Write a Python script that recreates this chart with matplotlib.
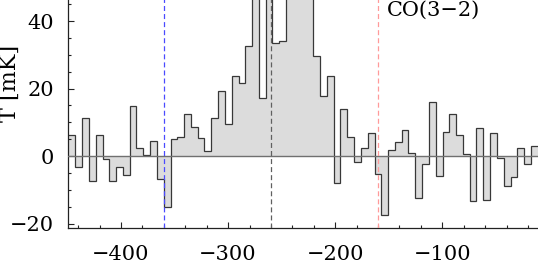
import numpy as np
import matplotlib
matplotlib.use("Agg")
import matplotlib.pyplot as plt
from matplotlib.ticker import MultipleLocator, FixedLocator

# channel centres (km/s) and antenna temperature (mK)
velocity = [-445.9, -439.5, -433.2, -426.8, -420.5, -414.1, -407.8, -401.4, -395.1, -388.7,
            -382.4, -376.0, -369.7, -363.3, -357.0, -350.6, -344.3, -337.9, -331.6, -325.2,
            -318.9, -312.5, -306.2, -299.8, -293.5, -287.1, -280.8, -274.4, -268.1, -261.7,
            -255.4, -249.0, -242.7, -236.3, -230.0, -223.6, -217.3, -210.9, -204.6, -198.2,
            -191.9, -185.5, -179.2, -172.8, -166.5, -160.1, -153.8, -147.4, -141.1, -134.7,
            -128.4, -122.0, -115.7, -109.3, -103.0, -96.6, -90.3, -83.9, -77.6, -71.2,
            -64.9, -58.5, -52.2, -45.8, -39.5, -33.1, -26.8, -20.4, -14.1]
temperature = [6.4, -3.2, 11.2, -7.4, 6.2, -0.8, -7.4, -3.2, -5.7, 14.8,
               2.4, 0.2, 4.4, -6.7, -15.0, 5.0, 5.6, 12.4, 8.7, 5.5,
               1.6, 11.2, 19.3, 9.5, 23.8, 21.7, 32.7, 55.0, 17.1, 60.0,
               33.6, 34.1, 58.0, 62.0, 52.0, 50.0, 29.7, 17.9, 23.8, -7.9,
               13.9, 5.8, -1.8, 2.5, 6.8, -5.2, -17.4, 1.8, 4.1, 7.8,
               0.8, -12.4, -2.4, 16.1, -5.8, 7.1, 12.4, 6.2, 0.6, -13.2,
               8.4, -12.9, 6.8, -0.7, -8.9, -6.2, 2.4, -2.4, 3.0]
channel_width = 6.35
marker_velocities = [-360, -260, -160]
marker_colors = ['#4a4aff', '#606060', '#ff9a9a']
line_label = 'CO(3\u22122)'
x_ticks = [-400, -300, -200, -100]
y_ticks = [-20, 0, 20, 40]

vel = np.array(velocity)
temp = np.array(temperature)
edges = np.concatenate([vel - channel_width / 2, [vel[-1] + channel_width / 2]])

plt.rcParams['font.family'] = ['DejaVu Serif']
plt.rcParams['lines.scale_dashes'] = False

fig = plt.figure(figsize=(5.38, 2.66), dpi=100)
ax = fig.add_axes([68 / 538, 38 / 266, 481.4 / 538, 308.3 / 266])

ax.stairs(temp, edges, baseline=0, fill=True, color='#dcdcdc', zorder=1)
ax.stairs(temp, edges, baseline=None, color='#383838', linewidth=0.9, zorder=2)
ax.axhline(0, color='#707070', linewidth=1.0, zorder=3)
for v, c in zip(marker_velocities, marker_colors):
    ax.axvline(v, color=c, linewidth=0.9, dashes=(3.6, 2.2), zorder=4)

ax.text(-152, 41.6, line_label, fontsize=15, va='baseline', ha='left')

ax.set_xlim(-449.5, 0)
ax.set_ylim(-21.28, 70)
ax.xaxis.set_major_locator(FixedLocator(x_ticks))
ax.xaxis.set_minor_locator(MultipleLocator(20))
ax.yaxis.set_major_locator(FixedLocator(y_ticks))
ax.yaxis.set_minor_locator(MultipleLocator(5))
ax.set_xticklabels([f'\u2212{abs(t)}' for t in x_ticks])
ax.set_yticklabels([f'\u2212{abs(t)}' if t < 0 else f'{t}' for t in y_ticks])
ax.tick_params(which='both', direction='in', color='#222222', width=0.8,
               labelsize=15, top=False, right=False)
ax.tick_params(which='major', length=4.3)
ax.tick_params(which='minor', length=2.4)
ax.tick_params(axis='x', pad=12)
ax.tick_params(axis='y', pad=10)
for s in ax.spines.values():
    s.set_color('#222222')
    s.set_linewidth(0.9)

fig.text(10.2 / 538, 1 - 83 / 266, 'T [mK]', rotation=90, fontsize=16,
         ha='center', va='center')

fig.savefig('out.png', dpi=100)
